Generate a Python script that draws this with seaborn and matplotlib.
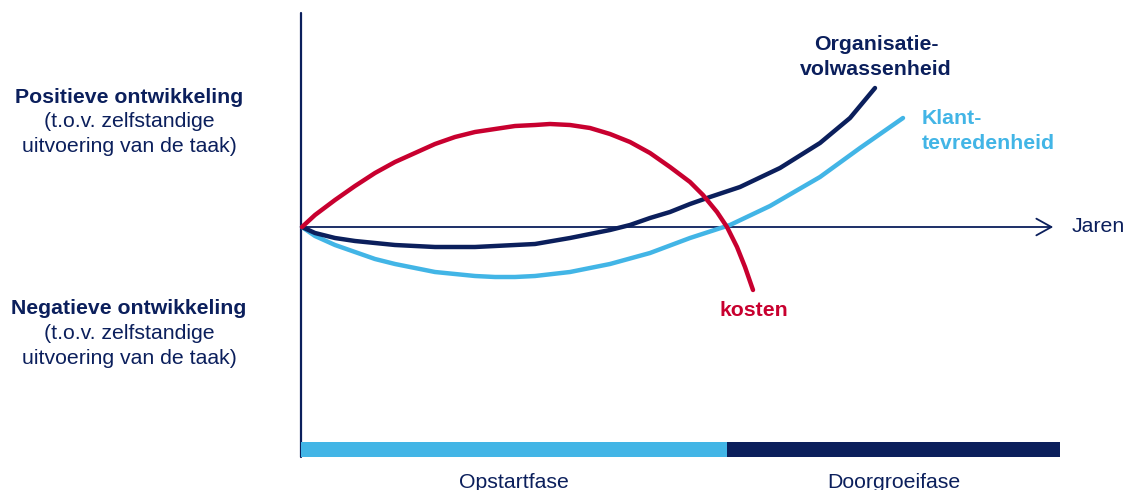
import matplotlib
matplotlib.use("Agg")
import matplotlib.pyplot as plt
import seaborn as sns
import pandas as pd

# ---- data (x = years axis units, y = development relative to own execution) ----
kosten_x = [1, 14, 34, 54, 74, 94, 114, 134, 154, 174, 194, 214, 234, 249, 269, 289,
            309, 329, 349, 369, 389, 402, 416, 426, 436, 444, 452]
kosten_y = [0, 12, 27, 41, 54, 65, 74, 83, 90, 95, 98, 101, 102, 103, 102, 99,
            93, 85, 74, 60, 45, 32, 15, 0, -20, -40, -63]

org_x = [1, 14, 34, 54, 74, 94, 114, 134, 154, 174, 194, 214, 234, 269, 309, 329,
         349, 369, 389, 409, 439, 479, 519, 549, 574]
org_y = [0, -6, -11, -14, -16, -18, -19, -20, -20, -20, -19, -18, -17, -11, -3, 2,
         9, 15, 23, 30, 40, 59, 84, 109, 139]

klant_x = [1, 14, 34, 54, 74, 94, 114, 134, 154, 174, 194, 214, 234, 269, 309, 349,
           389, 429, 469, 519, 559, 602]
klant_y = [0, -9, -18, -25, -32, -37, -41, -45, -47, -49, -50, -50, -49, -45, -37, -26,
           -11, 2, 21, 50, 79, 109]

phase_names = ["Opstartfase", "Doorgroeifase"]
phase_start = [0, 426]
phase_end = [426, 759]

NAVY = "#0b1f5c"
LBLUE = "#42b5e6"
RED = "#c8002f"

sns.set_theme(style="white")
plt.rcParams["font.family"] = ["Liberation Sans", "DejaVu Sans"]
FS = 15.3

fig = plt.figure(figsize=(11.25, 4.9), dpi=100)
ax = fig.add_axes([0, 0, 1, 1])
ax.set_xlim(-301, 824)
ax.set_ylim(-263, 227)

# axes
ax.plot([0, 0], [214, -230], color=NAVY, lw=1.6, zorder=2)
ax.annotate("", xy=(755, 0), xytext=(0, 0),
            arrowprops=dict(arrowstyle="->,head_length=0.9,head_width=0.5",
                            color=NAVY, lw=1.3), zorder=2)
ax.text(771, 0, "Jaren", color=NAVY, fontsize=FS, ha="left", va="center")

# curves
df_k = pd.DataFrame({"x": kosten_x, "y": kosten_y})
df_o = pd.DataFrame({"x": org_x, "y": org_y})
df_c = pd.DataFrame({"x": klant_x, "y": klant_y})
for d, c in [(df_c, LBLUE), (df_o, NAVY), (df_k, RED)]:
    sns.lineplot(data=d, x="x", y="y", ax=ax, color=c, lw=3.2, sort=False,
                 solid_capstyle="round", solid_joinstyle="round", zorder=3)
ax.set_xlim(-301, 824)
ax.set_ylim(-263, 227)
ax.axis("off")

# phase bar
phase_colors = [LBLUE, NAVY]
for name, s, e, c in zip(phase_names, phase_start, phase_end, phase_colors):
    ax.barh(-222.5, e - s, left=s, height=15, color=c, edgecolor="none", zorder=2)
    ax.text((s + e) / 2, -255, name, color=NAVY, fontsize=FS, ha="center", va="center")

# labels
ax.text(575, 169.5, "Organisatie-\nvolwassenheid", color=NAVY, fontsize=FS,
        fontweight="bold", ha="center", va="center", linespacing=1.4)
ax.text(621, 96, "Klant-\ntevredenheid", color=LBLUE, fontsize=FS,
        fontweight="bold", ha="left", va="center", linespacing=1.4)
ax.text(453, -84, "kosten", color=RED, fontsize=FS, fontweight="bold",
        ha="center", va="center")

ax.text(-172, 129, "Positieve ontwikkeling", color=NAVY, fontsize=FS,
        fontweight="bold", ha="center", va="center")
ax.text(-172, 93, "(t.o.v. zelfstandige\nuitvoering van de taak)", color=NAVY,
        fontsize=FS, ha="center", va="center", linespacing=1.45)
ax.text(-172, -82, "Negatieve ontwikkeling", color=NAVY, fontsize=FS,
        fontweight="bold", ha="center", va="center")
ax.text(-172, -119, "(t.o.v. zelfstandige\nuitvoering van de taak)", color=NAVY,
        fontsize=FS, ha="center", va="center", linespacing=1.45)

fig.savefig("out.png", dpi=100, facecolor="white")
